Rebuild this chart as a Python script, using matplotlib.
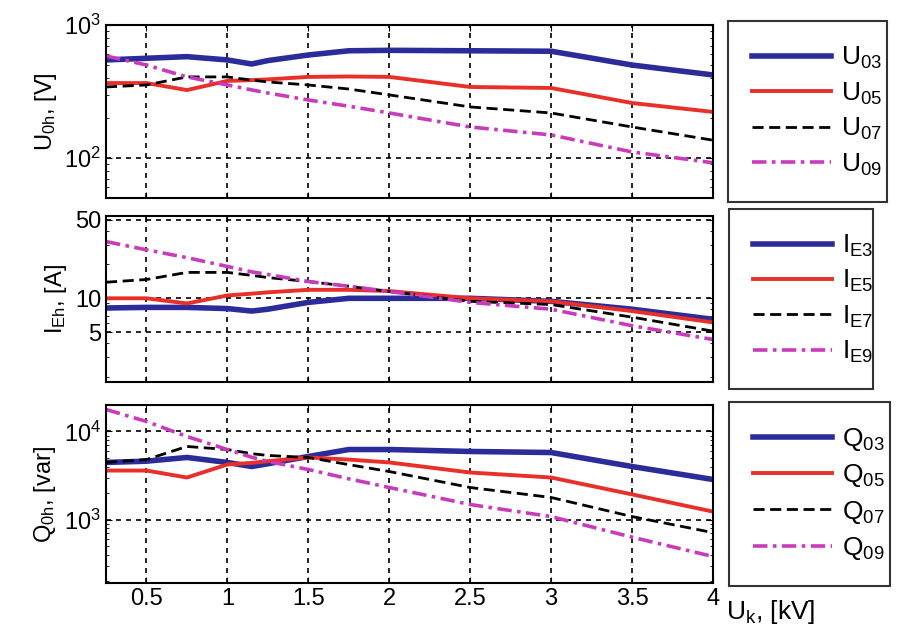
import matplotlib
matplotlib.use("Agg")
import matplotlib.pyplot as plt
from matplotlib.ticker import LogLocator, NullFormatter, FixedLocator, FixedFormatter

plt.rcParams["font.family"] = "Liberation Sans"
plt.rcParams["mathtext.fontset"] = "custom"
plt.rcParams["mathtext.rm"] = "Liberation Sans"
plt.rcParams["mathtext.it"] = "Liberation Sans"

uk = [0.25, 0.5, 0.75, 1.0, 1.15, 1.25, 1.5, 1.75, 2.0, 2.5, 3.0, 3.5, 4.0]

U03 = [546, 562, 578, 546, 509, 540, 595, 640, 645, 640, 635, 500, 421]
U05 = [366, 366, 324, 380, 385, 390, 407, 410, 407, 342, 336, 259, 222]
U07 = [342, 354, 407, 407, 385, 373, 354, 330, 298, 242, 218, 171, 136]
U09 = [585, 500, 407, 354, 325, 308, 273, 245, 218, 171, 149, 111, 92]

IE3 = [8.2, 8.3, 8.3, 8.1, 7.7, 8.0, 9.2, 10.0, 10.0, 10.0, 9.4, 8.0, 6.5]
IE5 = [10.0, 10.0, 9.0, 10.6, 11.0, 11.3, 11.9, 11.9, 11.6, 10.0, 9.4, 7.7, 6.1]
IE7 = [13.9, 14.7, 17.0, 17.0, 16.0, 15.3, 14.1, 12.8, 11.5, 9.4, 8.8, 6.8, 5.1]
IE9 = [32.0, 27.0, 23.0, 19.2, 17.2, 16.3, 14.1, 12.8, 11.5, 9.2, 8.0, 5.7, 4.3]

Q03 = [4450, 4600, 5070, 4450, 4000, 4300, 5200, 6240, 6240, 5930, 5770, 4000, 2850]
Q05 = [3600, 3600, 3000, 4220, 4400, 4600, 5070, 4800, 4450, 3420, 3000, 1930, 1230]
Q07 = [4450, 4800, 6760, 6240, 5600, 5340, 5070, 4200, 3510, 2310, 1780, 1080, 710]
Q09 = [17800, 13000, 8770, 6240, 5100, 4570, 3700, 2900, 2310, 1480, 1080, 630, 380]

xticks = [0.5, 1, 1.5, 2, 2.5, 3, 3.5, 4]
xticklabels = ["0.5", "1", "1.5", "2", "2.5", "3", "3.5", "4"]

styles = [dict(color="#2b2b9a", lw=4.0, ls="-"),
          dict(color="#e8302a", lw=2.8, ls="-"),
          dict(color="black", lw=2.0, ls=(0, (4, 2))),
          dict(color="#c83cbc", lw=2.6, ls=(0, (4, 1.5, 1, 1.5)))]

fig = plt.figure(figsize=(9.08, 6.35), dpi=100)
W, H = 908, 635
def rect(x0, y0, x1, y1):
    return [x0 / W, 1 - y1 / H, (x1 - x0) / W, (y1 - y0) / H]

panels = [
    (rect(106, 25, 713, 198), [U03, U05, U07, U09],
     ["U$_{03}$", "U$_{05}$", "U$_{07}$", "U$_{09}$"], (50, 1000),
     [100, 1000], ["10$^2$", "10$^3$"], "U$_{0h}$, [V]", (728, 887)),
    (rect(106, 216, 713, 382), [IE3, IE5, IE7, IE9],
     ["I$_{E3}$", "I$_{E5}$", "I$_{E7}$", "I$_{E9}$"], (1.8, 54),
     [5, 10, 50], ["5", "10", "50"], "I$_{Eh}$, [A]", (729, 873)),
    (rect(106, 405, 713, 583), [Q03, Q05, Q07, Q09],
     ["Q$_{03}$", "Q$_{05}$", "Q$_{07}$", "Q$_{09}$"], (190, 20000),
     [1000, 10000], ["10$^3$", "10$^4$"], "Q$_{0h}$, [var]", (729, 890)),
]

for i, (r, series, labels, ylim, yt, ytl, ylab, lx) in enumerate(panels):
    ax = fig.add_axes(r)
    for s, lab, st in zip(series, labels, styles):
        ax.plot(uk, s, label=lab, **st)
    ax.set_yscale("log")
    ax.set_xlim(0.25, 4)
    ax.set_ylim(*ylim)
    ax.yaxis.set_major_locator(FixedLocator(yt))
    ax.yaxis.set_major_formatter(FixedFormatter(ytl))
    ax.yaxis.set_minor_locator(LogLocator(base=10, subs=range(2, 10)))
    ax.yaxis.set_minor_formatter(NullFormatter())
    ax.set_xticks(xticks)
    if i == 2:
        ax.set_xticklabels(xticklabels)
    else:
        ax.set_xticklabels([])
    ax.tick_params(direction="in", labelsize=17, length=4, right=True, top=True)
    ax.tick_params(which="minor", direction="in", length=2, right=True)
    ax.grid(True, which="major", color="black", ls=(0, (3, 3)), lw=1.2)
    ax.set_ylabel(ylab, fontsize=17, labelpad=4)
    for sp in ax.spines.values():
        sp.set_linewidth(1.5)
    x0 = (lx[0] - 106) / 607
    w = (lx[1] - lx[0]) / 607
    leg = ax.legend(loc="center left", bbox_to_anchor=(x0, 0.0, w, 1.0),
                    mode="expand", borderaxespad=0, fontsize=19,
                    fancybox=False, edgecolor="black", handlelength=3.0,
                    labelspacing=0.35, handletextpad=0.4, borderpad=0.9)
    leg.get_frame().set_linewidth(1.5)

fig.text(726 / W, 1 - 612 / H, "U$_k$, [kV]", fontsize=19, va="center", ha="left")
fig.savefig("out.png", dpi=100)
